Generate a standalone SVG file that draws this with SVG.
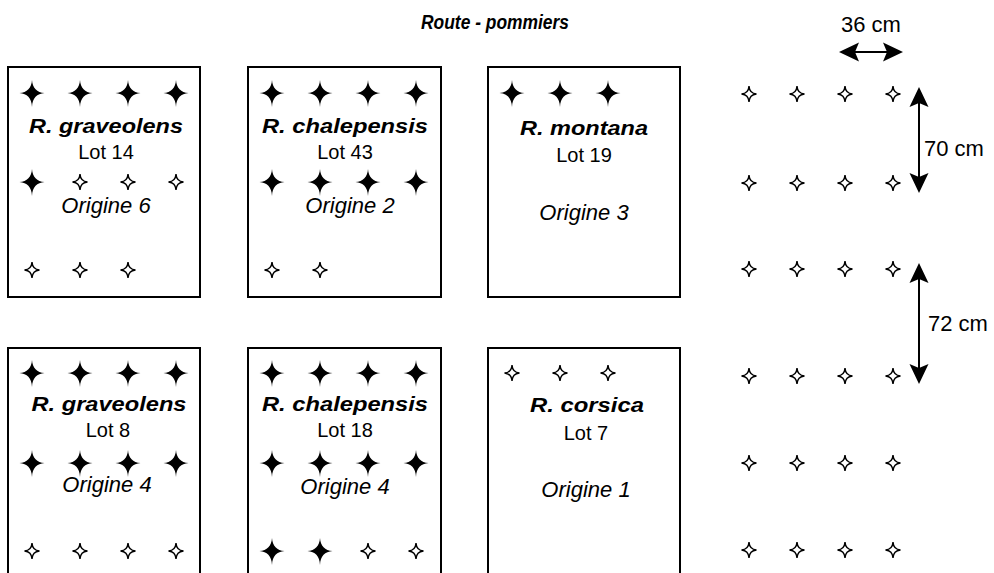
<svg xmlns="http://www.w3.org/2000/svg" xmlns:xlink="http://www.w3.org/1999/xlink" width="994" height="573" viewBox="0 0 994 573">
<style>
.box{fill:none;stroke:#000;stroke-width:2}
.sp{font-family:"Liberation Sans",Arial,sans-serif;font-weight:bold;font-style:italic;font-size:21px;text-anchor:middle;fill:#000}
.lot{font-family:"Liberation Sans",Arial,sans-serif;font-size:20px;text-anchor:middle;fill:#000}
.ori{font-family:"Liberation Sans",Arial,sans-serif;font-style:italic;font-size:22px;text-anchor:middle;fill:#000}
.dim{font-family:"Liberation Sans",Arial,sans-serif;font-size:22px;fill:#000}
.title{font-family:"Liberation Sans",Arial,sans-serif;font-weight:bold;font-style:italic;font-size:20px;text-anchor:middle;fill:#000}
.arr{stroke:#000;stroke-width:2;fill:none}
</style>
<defs>
<path id="B" d="M0,-13 C0.4,-5 5,-0.5 12.5,0 C5,0.5 0.4,5 0,14 C-0.4,5 -5,0.5 -12.5,0 C-5,-0.5 -0.4,-5 0,-13Z" fill="#000"/>
<path id="S" d="M0,-8 C0.3,-3 3,-0.4 7.5,0 C3,0.4 0.3,3 0,8 C-0.3,3 -3,0.4 -7.5,0 C-3,-0.4 -0.3,-3 0,-8Z" fill="#fff" stroke="#000" stroke-width="1.4" stroke-linejoin="miter"/>
<marker id="ah" markerUnits="userSpaceOnUse" viewBox="-12 -11 24 22" refX="0" refY="0" markerWidth="24" markerHeight="22" orient="auto-start-reverse">
<path d="M10,0 L-10,-9.5 L-6,0 L-10,9.5 Z" fill="#000"/>
</marker>
</defs>
<rect width="994" height="573" fill="#fff"/>
<text class="title" x="495" y="29" textLength="148" lengthAdjust="spacingAndGlyphs">Route - pommiers</text>

<g id="plot-graveolens-14">
<rect class="box" x="8" y="67" width="192" height="230"/>
<use href="#B" x="32" y="93"/><use href="#B" x="80" y="93"/><use href="#B" x="128" y="93"/><use href="#B" x="176" y="93"/>
<use href="#B" x="32" y="182"/><use href="#S" x="80" y="182"/><use href="#S" x="128" y="182"/><use href="#S" x="176" y="182"/>
<use href="#S" x="32" y="270"/><use href="#S" x="80" y="270"/><use href="#S" x="128" y="270"/>
<text class="sp" x="106" y="133" textLength="154" lengthAdjust="spacingAndGlyphs">R. graveolens</text>
<text class="lot" x="106" y="159">Lot 14</text>
<text class="ori" x="106" y="213">Origine 6</text>
</g>

<g id="plot-chalepensis-43">
<rect class="box" x="248" y="67" width="193" height="230"/>
<use href="#B" x="272" y="93"/><use href="#B" x="320" y="93"/><use href="#B" x="368" y="93"/><use href="#B" x="416" y="93"/>
<use href="#B" x="272" y="182"/><use href="#B" x="320" y="182"/><use href="#B" x="368" y="182"/><use href="#B" x="416" y="182"/>
<use href="#S" x="272" y="270"/><use href="#S" x="320" y="270"/>
<text class="sp" x="345" y="133" textLength="166" lengthAdjust="spacingAndGlyphs">R. chalepensis</text>
<text class="lot" x="345" y="159">Lot 43</text>
<text class="ori" x="350" y="213">Origine 2</text>
</g>

<g id="plot-montana-19">
<rect class="box" x="488" y="67" width="192" height="230"/>
<use href="#B" x="512" y="93"/><use href="#B" x="560" y="93"/><use href="#B" x="608" y="93"/>
<text class="sp" x="584" y="135" textLength="128" lengthAdjust="spacingAndGlyphs">R. montana</text>
<text class="lot" x="584" y="162">Lot 19</text>
<text class="ori" x="584" y="220">Origine 3</text>
</g>

<g id="plot-graveolens-8">
<rect class="box" x="8" y="348" width="192" height="260"/>
<use href="#B" x="32" y="373"/><use href="#B" x="80" y="373"/><use href="#B" x="128" y="373"/><use href="#B" x="176" y="373"/>
<use href="#B" x="32" y="463"/><use href="#B" x="80" y="463"/><use href="#B" x="128" y="463"/><use href="#B" x="176" y="463"/>
<use href="#S" x="32" y="551"/><use href="#S" x="80" y="551"/><use href="#S" x="128" y="551"/><use href="#S" x="176" y="551"/>
<text class="sp" x="109" y="411" textLength="155" lengthAdjust="spacingAndGlyphs">R. graveolens</text>
<text class="lot" x="108" y="437">Lot 8</text>
<text class="ori" x="107" y="492">Origine 4</text>
</g>

<g id="plot-chalepensis-18">
<rect class="box" x="248" y="348" width="193" height="260"/>
<use href="#B" x="272" y="373"/><use href="#B" x="320" y="373"/><use href="#B" x="368" y="373"/><use href="#B" x="416" y="373"/>
<use href="#B" x="272" y="463"/><use href="#B" x="320" y="463"/><use href="#B" x="368" y="463"/><use href="#B" x="416" y="463"/>
<use href="#B" x="272" y="551"/><use href="#B" x="320" y="551"/><use href="#S" x="368" y="551"/><use href="#S" x="416" y="551"/>
<text class="sp" x="345" y="411" textLength="166" lengthAdjust="spacingAndGlyphs">R. chalepensis</text>
<text class="lot" x="345" y="437">Lot 18</text>
<text class="ori" x="345" y="494">Origine 4</text>
</g>

<g id="plot-corsica-7">
<rect class="box" x="488" y="348" width="192" height="260"/>
<use href="#S" x="512" y="373"/><use href="#S" x="560" y="373"/><use href="#S" x="608" y="373"/>
<text class="sp" x="587" y="412" textLength="114" lengthAdjust="spacingAndGlyphs">R. corsica</text>
<text class="lot" x="586" y="440">Lot 7</text>
<text class="ori" x="586" y="497">Origine 1</text>
</g>

<g id="spacing-grid">
<use href="#S" x="749" y="94"/><use href="#S" x="797" y="94"/><use href="#S" x="845" y="94"/><use href="#S" x="893" y="94"/>
<use href="#S" x="749" y="183"/><use href="#S" x="797" y="183"/><use href="#S" x="845" y="183"/><use href="#S" x="893" y="183"/>
<use href="#S" x="749" y="269"/><use href="#S" x="797" y="269"/><use href="#S" x="845" y="269"/><use href="#S" x="893" y="269"/>
<use href="#S" x="749" y="376"/><use href="#S" x="797" y="376"/><use href="#S" x="845" y="376"/><use href="#S" x="893" y="376"/>
<use href="#S" x="749" y="463"/><use href="#S" x="797" y="463"/><use href="#S" x="845" y="463"/><use href="#S" x="893" y="463"/>
<use href="#S" x="749" y="550"/><use href="#S" x="797" y="550"/><use href="#S" x="845" y="550"/><use href="#S" x="893" y="550"/>
</g>

<g id="connectors">
<line class="arr" x1="849" y1="52" x2="893" y2="52" marker-start="url(#ah)" marker-end="url(#ah)"/>
<line class="arr" x1="919" y1="97" x2="919" y2="183" marker-start="url(#ah)" marker-end="url(#ah)"/>
<line class="arr" x1="919" y1="273" x2="919" y2="374" marker-start="url(#ah)" marker-end="url(#ah)"/>
</g>
<text class="dim" x="871" y="32" text-anchor="middle">36 cm</text>
<text class="dim" x="924" y="156">70 cm</text>
<text class="dim" x="928" y="331">72 cm</text>
</svg>
